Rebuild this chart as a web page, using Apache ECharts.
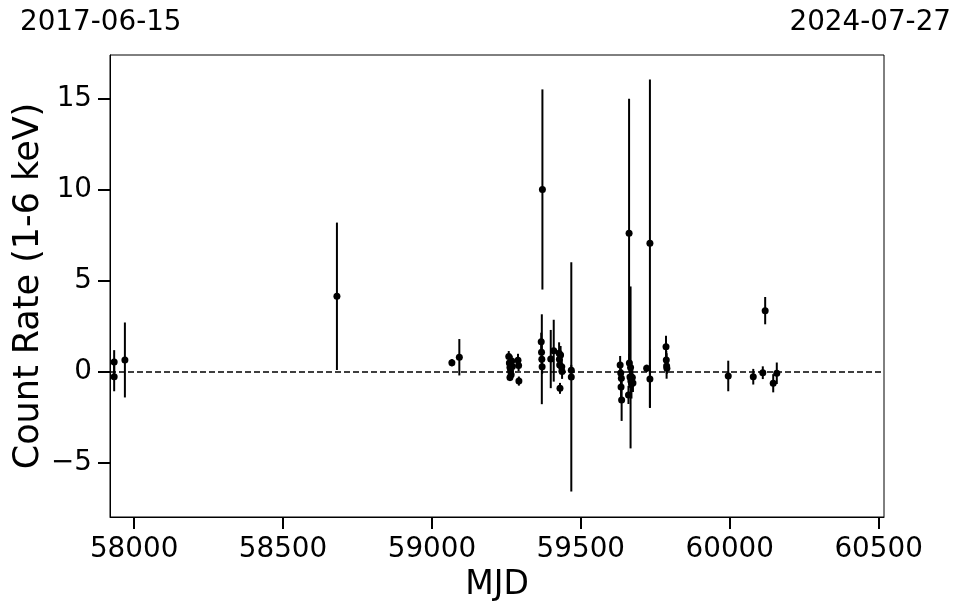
<!DOCTYPE html>
<html>
<head>
<meta charset="utf-8">
<script src="https://cdn.jsdelivr.net/npm/echarts@6/dist/echarts.min.js"></script>
<style>
html,body{margin:0;padding:0;background:#fff;}
#chart{width:962px;height:613px;}
</style>
</head>
<body>
<div id="chart"></div>
<script>
// MJD of each measurement
const mjd = [57933, 57933, 57969, 58681, 59067, 59092,
  59258, 59260, 59262, 59264, 59266, 59262, 59268, 59270,
  59289, 59291, 59292,
  59367, 59368, 59369, 59370, 59371, 59399, 59409,
  59427, 59428, 59429, 59430, 59432, 59436, 59437,
  59468, 59468,
  59632, 59634, 59636, 59635, 59637, 59662, 59667, 59663, 59665, 59668, 59670, 59673, 59675, 59660,
  59721, 59732, 59732,
  59786, 59787, 59788, 59789,
  59995, 60079, 60111, 60119, 60146, 60158];
// count rate (1-6 keV)
const rate = [0.55, -0.26, 0.66, 4.16, 0.51, 0.81,
  0.85, 0.5, 0.25, 0.05, -0.15, -0.3, 0.6, 0.3,
  0.65, 0.35, -0.5,
  1.66, 1.08, 0.70, 0.29, 10.03, 0.71, 1.17,
  1.03, 0.7, 0.38, -0.9, 0.93, 0.29, 0.02,
  -0.27, 0.09,
  0.38, -0.05, -0.35, -0.82, -1.54, 7.62, 0.25, 0.5, -0.27, -0.5, -0.66, -0.3, -0.6, -1.26,
  0.2, 7.07, -0.38,
  1.39, 0.66, 0.33, 0.2,
  -0.22, -0.26, -0.04, 3.37, -0.62, -0.07];
// 1-sigma errors
const err = [0.65, 0.8, 2.06, 4.05, 0.2, 1.0,
  0.3, 0.35, 0.3, 0.25, 0.3, 0.2, 0.3, 0.2,
  0.35, 0.3, 0.25,
  0.5, 0.6, 2.47, 0.4, 5.5, 1.6, 1.7,
  0.6, 0.5, 0.4, 0.3, 0.5, 0.4, 0.4,
  6.3, 0.3,
  0.5, 0.5, 0.5, 0.7, 1.15, 7.4, 4.45, 0.5, 0.6, 0.5, 0.8, 0.4, 0.5, 0.5,
  0.2, 9.0, 1.6,
  0.6, 0.5, 0.7, 0.3,
  0.84, 0.43, 0.35, 0.75, 0.5, 0.59];
const xTicks = [58000, 58500, 59000, 59500, 60000, 60500];
const yTicks = [-5, 0, 5, 10, 15];
const xMin = 57919, xMax = 60518;   // 2017-06-15 .. 2024-07-27
const yMin = -7.97, yMax = 17.42;
const startDate = '2017-06-15', endDate = '2024-07-27';

const points = mjd.map((m, i) => [m, rate[i]]);
const bars = mjd.map((m, i) => [m, rate[i] - err[i], rate[i] + err[i]]);

const FONT = 'DejaVu Sans';
const chart = echarts.init(document.getElementById('chart'), null, {renderer: 'canvas'});
chart.setOption({
  animation: false,
  backgroundColor: '#fff',
  grid: {left: 110, top: 55, right: 78, bottom: 96, show: true, borderColor: '#000', borderWidth: 1, backgroundColor: 'transparent'},
  graphic: [
    {type: 'text', left: 20, top: 9, style: {text: startDate, font: '27.8px "DejaVu Sans"', fill: '#000'}},
    {type: 'text', right: 11, top: 9, style: {text: endDate, font: '27.8px "DejaVu Sans"', fill: '#000'}}
  ],
  xAxis: {
    type: 'value', min: xMin, max: xMax,
    name: 'MJD', nameLocation: 'middle', nameGap: 47,
    nameTextStyle: {fontFamily: FONT, fontSize: 33, color: '#000'},
    axisLine: {show: true, onZero: false, lineStyle: {color: '#000', width: 1}},
    axisTick: {show: true, length: 12, lineStyle: {color: '#000', width: 2}, customValues: xTicks},
    axisLabel: {fontFamily: FONT, fontSize: 27.8, color: '#000', margin: 19, customValues: xTicks,
      formatter: v => String(v)},
    splitLine: {show: false}
  },
  yAxis: {
    type: 'value', min: yMin, max: yMax,
    name: 'Count Rate (1-6 keV)', nameLocation: 'middle', nameGap: 64, nameMoveOverlap: false,
    nameTextStyle: {fontFamily: FONT, fontSize: 35, color: '#000'},
    axisLine: {show: true, onZero: false, lineStyle: {color: '#000', width: 1}},
    axisTick: {show: true, length: 12, lineStyle: {color: '#000', width: 2}, customValues: yTicks},
    axisLabel: {fontFamily: FONT, fontSize: 27.8, color: '#000', margin: 18, customValues: yTicks,
      formatter: v => v < 0 ? '\u2212' + Math.abs(v) : String(v)},
    splitLine: {show: false}
  },
  series: [
    {
      type: 'line', data: [[xMin, 0], [xMax, 0]], symbol: 'none', silent: true,
      lineStyle: {color: '#000', width: 1.5, type: [6, 3]}, z: 1
    },
    {
      type: 'custom', data: bars, z: 2,
      renderItem: function (params, api) {
        const x = api.value(0);
        const p1 = api.coord([x, api.value(1)]);
        const p2 = api.coord([x, api.value(2)]);
        return {type: 'line', shape: {x1: p1[0], y1: p1[1], x2: p2[0], y2: p2[1]},
          style: {stroke: '#000', lineWidth: 2}};
      }
    },
    {
      type: 'scatter', data: points, symbol: 'circle', symbolSize: 7, z: 3,
      itemStyle: {color: '#000', opacity: 1}
    }
  ]
});
</script>
</body>
</html>
